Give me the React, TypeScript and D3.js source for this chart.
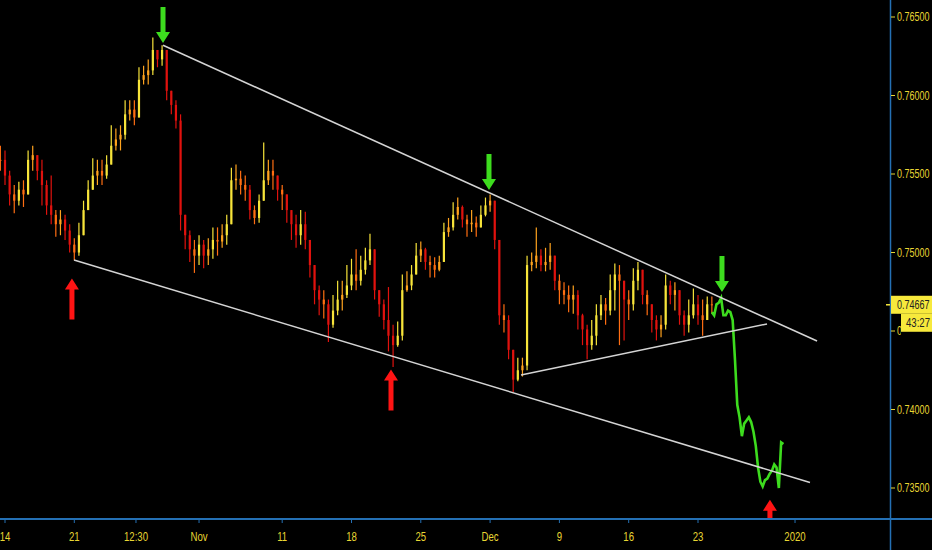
import React from 'react';
import * as d3 from 'd3';

const W = 932;
const H = 550;

// 8-hour candles (3 per trading day), open = previous close
const closes = [
  0.7559, 0.7549, 0.7537, 0.7533, 0.7540, 0.7537, 0.7559, 0.7562, 0.7552, 0.7543,
  0.7530, 0.7524, 0.7518, 0.7521, 0.7514, 0.7505, 0.7500, 0.7511, 0.7527, 0.7540,
  0.7549, 0.7552, 0.7549, 0.7556, 0.7568, 0.7572, 0.7575, 0.7588, 0.7591, 0.7586,
  0.7610, 0.7613, 0.7616, 0.7629, 0.7623, 0.7629, 0.7603, 0.7594, 0.7584, 0.7524,
  0.7511, 0.7502, 0.7498, 0.7505, 0.7498, 0.7502, 0.7508, 0.7507, 0.7511, 0.7518,
  0.7546, 0.7547, 0.7543, 0.7540, 0.7527, 0.7522, 0.7533, 0.7546, 0.7552, 0.7549,
  0.7540, 0.7537, 0.7527, 0.7518, 0.7511, 0.7518, 0.7508, 0.7492, 0.7476, 0.7470,
  0.7467, 0.7454, 0.7463, 0.7470, 0.7473, 0.7479, 0.7486, 0.7482, 0.7489, 0.7495,
  0.7502, 0.7476, 0.7467, 0.7457, 0.7447, 0.7441, 0.7447, 0.7476, 0.7479, 0.7486,
  0.7498, 0.7502, 0.7494, 0.7492, 0.7489, 0.7494, 0.7513, 0.7516, 0.7524, 0.7529,
  0.7521, 0.7518, 0.7519, 0.7516, 0.7524, 0.7530, 0.7533, 0.7508, 0.7460, 0.7457,
  0.7438, 0.7419, 0.7425, 0.7428, 0.7492, 0.7494, 0.7498, 0.7492, 0.7494, 0.7498,
  0.7482, 0.7476, 0.7473, 0.7470, 0.7473, 0.7460, 0.7451, 0.7441, 0.7447, 0.7460,
  0.7467, 0.7463, 0.7476, 0.7486, 0.7482, 0.7470, 0.7467, 0.7482, 0.7489, 0.7473,
  0.7467, 0.7457, 0.7451, 0.7454, 0.7479, 0.7473, 0.7476, 0.7460, 0.7454, 0.7460,
  0.7467, 0.7460, 0.7457, 0.7467, 0.7467,
];
const highs = [
  0.7568, 0.7565, 0.7552, 0.7543, 0.7545, 0.7546, 0.7565, 0.7568, 0.7562, 0.7559,
  0.7546, 0.7549, 0.7527, 0.7527, 0.7524, 0.7518, 0.7509, 0.7519, 0.7533, 0.7546,
  0.7560, 0.7559, 0.7559, 0.7562, 0.7581, 0.7579, 0.7581, 0.7597, 0.7597, 0.7597,
  0.7618, 0.7619, 0.7623, 0.7637, 0.7629, 0.7632, 0.7626, 0.7598, 0.7597, 0.7588,
  0.7524, 0.7514, 0.7508, 0.7511, 0.7508, 0.7509, 0.7516, 0.7516, 0.7518, 0.7524,
  0.7554, 0.7556, 0.7552, 0.7549, 0.7543, 0.7530, 0.7537, 0.7570, 0.7559, 0.7559,
  0.7549, 0.7543, 0.7537, 0.7527, 0.7524, 0.7527, 0.7526, 0.7505, 0.7489, 0.7479,
  0.7476, 0.7470, 0.7473, 0.7482, 0.7482, 0.7492, 0.7496, 0.7502, 0.7498, 0.7503,
  0.7512, 0.7498, 0.7476, 0.7470, 0.7478, 0.7454, 0.7456, 0.7486, 0.7488, 0.7492,
  0.7506, 0.7507, 0.7503, 0.7498, 0.7497, 0.7498, 0.7519, 0.7522, 0.7532, 0.7535,
  0.7530, 0.7524, 0.7527, 0.7523, 0.7530, 0.7535, 0.7537, 0.7533, 0.7508, 0.7467,
  0.7460, 0.7435, 0.7433, 0.7433, 0.7498, 0.7500, 0.7516, 0.7502, 0.7503, 0.7506,
  0.7498, 0.7486, 0.7481, 0.7479, 0.7479, 0.7476, 0.7461, 0.7454, 0.7457, 0.7467,
  0.7473, 0.7471, 0.7486, 0.7493, 0.7492, 0.7482, 0.7476, 0.7490, 0.7494, 0.7489,
  0.7476, 0.7467, 0.7460, 0.7460, 0.7486, 0.7482, 0.7481, 0.7473, 0.7463, 0.7470,
  0.7477, 0.7473, 0.7470, 0.7472, 0.7472,
];
const lows = [
  0.7552, 0.7543, 0.7530, 0.7525, 0.7530, 0.7529, 0.7537, 0.7552, 0.7546, 0.7530,
  0.7524, 0.7518, 0.7510, 0.7511, 0.7508, 0.7500, 0.7495, 0.7498, 0.7511, 0.7530,
  0.7540, 0.7543, 0.7543, 0.7547, 0.7556, 0.7565, 0.7565, 0.7572, 0.7584, 0.7581,
  0.7594, 0.7607, 0.7607, 0.7613, 0.7618, 0.7619, 0.7597, 0.7588, 0.7579, 0.7514,
  0.7502, 0.7494, 0.7487, 0.7492, 0.7490, 0.7492, 0.7496, 0.7498, 0.7503, 0.7505,
  0.7518, 0.7540, 0.7537, 0.7533, 0.7521, 0.7518, 0.7519, 0.7537, 0.7543, 0.7540,
  0.7533, 0.7527, 0.7519, 0.7508, 0.7503, 0.7505, 0.7502, 0.7484, 0.7467, 0.7460,
  0.7458, 0.7443, 0.7452, 0.7460, 0.7463, 0.7471, 0.7476, 0.7476, 0.7479, 0.7486,
  0.7492, 0.7470, 0.7459, 0.7451, 0.7437, 0.7427, 0.7440, 0.7444, 0.7475, 0.7476,
  0.7490, 0.7494, 0.7489, 0.7484, 0.7484, 0.7488, 0.7495, 0.7510, 0.7514, 0.7521,
  0.7516, 0.7510, 0.7513, 0.7510, 0.7518, 0.7523, 0.7526, 0.7502, 0.7454, 0.7449,
  0.7432, 0.7411, 0.7418, 0.7421, 0.7425, 0.7488, 0.7490, 0.7488, 0.7488, 0.7489,
  0.7476, 0.7467, 0.7467, 0.7462, 0.7461, 0.7451, 0.7441, 0.7432, 0.7438, 0.7441,
  0.7457, 0.7454, 0.7460, 0.7463, 0.7441, 0.7444, 0.7457, 0.7463, 0.7476, 0.7467,
  0.7460, 0.7449, 0.7444, 0.7446, 0.7451, 0.7467, 0.7463, 0.7454, 0.7447, 0.7449,
  0.7458, 0.7454, 0.7447, 0.7458, 0.7461,
];
const firstBarDay = -1 / 3;
const barsPerDay = 3;

// latest segment drawn as a green close line (4-hour steps)
const greenCloses = [
  0.7462, 0.7460, 0.7467, 0.7468, 0.7471, 0.7460, 0.7460, 0.7463, 0.7462, 0.7457,
  0.7432, 0.7403, 0.7395, 0.7383, 0.7391, 0.7393, 0.7395, 0.7392, 0.7386, 0.7377,
  0.7363, 0.7354, 0.7351, 0.7355, 0.7356, 0.7359, 0.7361, 0.7365, 0.7363, 0.7350,
  0.7379, 0.7378,
];
const greenStartDay = 51;
const greenPerDay = 6;

// time axis (trading days since Oct 14)
const timeTickDays = [0, 5, 9.45, 14, 20, 25, 30, 35, 40, 45, 50, 57];
const timeTickLabels = ['14', '21', '12:30', 'Nov', '11', '18', '25', 'Dec', '9', '16', '23', '2020'];
const priceTicks = [0.765, 0.76, 0.755, 0.75, 0.745, 0.74, 0.735];
const lastPrice = 0.74667;
const countdown = '43:27';

// drawings: [day, price] anchors
const trendStarts = [[11.4, 0.7632], [4.98, 0.74952], [37.23, 0.7422]];
const trendEnds = [[58.59, 0.74436], [58.08, 0.73535], [54.98, 0.74545]];
const downArrowTips = [[11.4, 0.76334], [34.92, 0.75398], [51.73, 0.74748]];
const upArrowTips = [[4.83, 0.74835], [27.85, 0.74255], [55.19, 0.73425]];

const PLOT_R = 890;
const PLOT_B = 519;
const AXIS_BLUE = '#2470b4';
const LABEL_YELLOW = '#e8d633';
const FONT = '"Liberation Sans", Arial, sans-serif';

function candleColor(o: number, c: number) {
  const d = c - o;
  if (d > 0.0006) return '#f7e43a';
  if (d > 0) return '#ffa31e';
  if (d > -0.0006) return '#ff6e12';
  return '#e0120e';
}

function arrowPath(tx: number, ty: number, dir: number, L: number) {
  // dir = 1 -> pointing down (tip at bottom), -1 -> pointing up
  const hh = 11, hw = 7, sw = 2.5;
  const p = (dx: number, dy: number) => `${tx + dx},${ty - dir * dy}`;
  return `M${p(-sw, L)}L${p(sw, L)}L${p(sw, hh)}L${p(hw, hh)}L${p(0, 0)}L${p(-hw, hh)}L${p(-sw, hh)}Z`;
}

export default function App() {
  const x = d3.scaleLinear().domain([-5 / 13.86, 885 / 13.86]).range([0, PLOT_R]);
  const y = d3.scaleLinear().domain([0.765 - 502 / 15700, 0.765 + 17 / 15700]).range([PLOT_B, 0]);

  const bars = closes.map((c, i) => {
    const o = i === 0 ? c : closes[i - 1];
    const day = firstBarDay + i / barsPerDay;
    const hi = Math.max(highs[i], o, c);
    const lo = Math.min(lows[i], o, c);
    return { cx: x(day), o, c, hi, lo, color: candleColor(o, c) };
  });

  const greenLine = d3
    .line<number>()
    .x((_, j) => x(greenStartDay + j / greenPerDay))
    .y((v) => y(v))(greenCloses) as string;

  const bw = 2.2;

  return (
    <svg width={W} height={H} style={{ position: 'absolute', left: 0, top: 0, display: 'block', background: '#000' }}>
      <rect x={0} y={0} width={W} height={H} fill="#000" />
      <defs>
        <clipPath id="plot">
          <rect x={0} y={0} width={PLOT_R} height={PLOT_B} />
        </clipPath>
        <clipPath id="underTag">
          <rect x={PLOT_R} y={0} width={901 - PLOT_R} height={H} />
        </clipPath>
      </defs>
      <g clipPath="url(#plot)">
        {bars.map((b, i) => (
          <g key={i}>
            <line x1={b.cx} x2={b.cx} y1={y(b.hi)} y2={y(b.lo)} stroke={b.color} strokeWidth={1.2} />
            <rect
              x={b.cx - bw / 2}
              y={y(Math.max(b.o, b.c))}
              width={bw}
              height={Math.max(1, Math.abs(y(b.o) - y(b.c)))}
              fill={b.color}
            />
          </g>
        ))}
        <path d={greenLine} fill="none" stroke="#3ddc1e" strokeWidth={2.6} strokeLinejoin="miter" />
        {trendStarts.map((s, i) => (
          <line
            key={i}
            x1={x(s[0])}
            y1={y(s[1])}
            x2={x(trendEnds[i][0])}
            y2={y(trendEnds[i][1])}
            stroke="#d4d4d4"
            strokeWidth={1.5}
          />
        ))}
        {downArrowTips.map((a, i) => (
          <path key={'d' + i} d={arrowPath(x(a[0]), y(a[1]), 1, 36)} fill="#3ddc1e" />
        ))}
        {upArrowTips.map((a, i) => (
          <path key={'u' + i} d={arrowPath(x(a[0]), y(a[1]), -1, 41)} fill="#ff1414" />
        ))}
      </g>

      {/* axes */}
      <line x1={0} x2={W} y1={PLOT_B} y2={PLOT_B} stroke={AXIS_BLUE} strokeWidth={2} />
      <line x1={PLOT_R + 0.5} x2={PLOT_R + 0.5} y1={0} y2={H} stroke={AXIS_BLUE} strokeWidth={1.5} />

      {timeTickDays.map((d, i) => (
        <g key={i}>
          <line x1={x(d)} x2={x(d)} y1={PLOT_B} y2={PLOT_B + 4} stroke={AXIS_BLUE} strokeWidth={1} />
          <text
            transform={`translate(${x(d)},541) scale(0.8,1)`}
            textAnchor="middle"
            fill={LABEL_YELLOW}
            fontFamily={FONT}
            fontSize={12}
          >
            {timeTickLabels[i]}
          </text>
        </g>
      ))}

      {priceTicks.map((p, i) => {
        const hidden = Math.abs(y(p) - (y(lastPrice) + 18)) < 10;
        return (
          <g key={i} clipPath={hidden ? 'url(#underTag)' : undefined}>
            <line x1={PLOT_R + 1} x2={PLOT_R + 5} y1={y(p)} y2={y(p)} stroke={LABEL_YELLOW} strokeWidth={1} />
            <text
              transform={`translate(897,${y(p) + 4}) scale(0.75,1)`}
              fill={LABEL_YELLOW}
              fontFamily={FONT}
              fontSize={12}
            >
              {p.toFixed(5)}
            </text>
          </g>
        );
      })}

      {/* current price tag */}
      <rect x={PLOT_R + 1} y={y(lastPrice) - 9} width={W - PLOT_R - 1} height={18} fill="#f7e93c" />
      <line x1={PLOT_R - 4} x2={PLOT_R} y1={y(lastPrice)} y2={y(lastPrice)} stroke="#f7e93c" strokeWidth={1.5} />
      <text
        transform={`translate(897,${y(lastPrice) + 4}) scale(0.75,1)`}
        fill="#222"
        fontFamily={FONT}
        fontSize={12}
      >
        {lastPrice.toFixed(5)}
      </text>
      <rect x={901} y={y(lastPrice) + 9} width={W - 901} height={18} fill="#f7e93c" />
      <text
        transform={`translate(906,${y(lastPrice) + 22}) scale(0.8,1)`}
        fill="#222"
        fontFamily={FONT}
        fontSize={12}
      >
        {countdown}
      </text>
    </svg>
  );
}
